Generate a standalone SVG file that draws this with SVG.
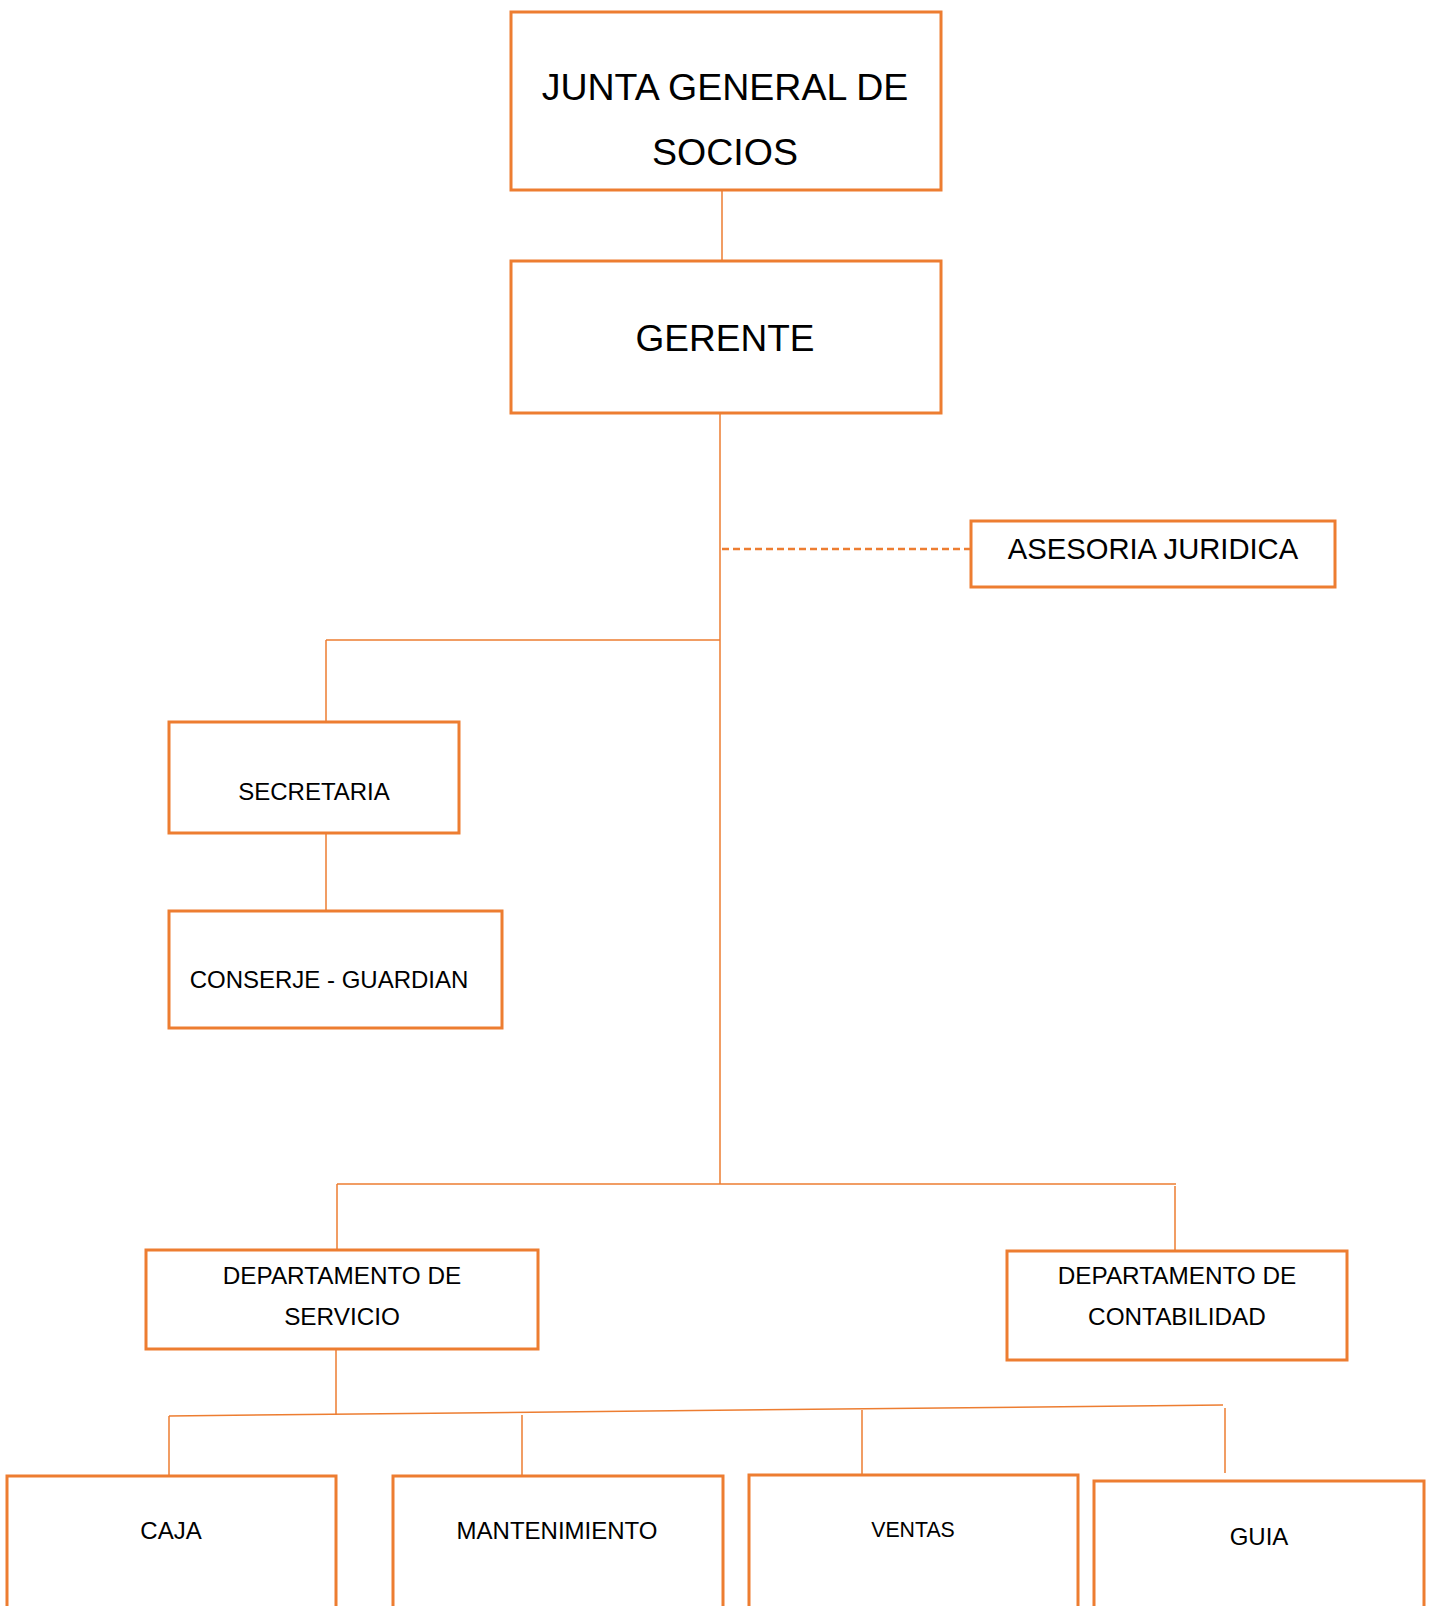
<svg xmlns="http://www.w3.org/2000/svg" width="1433" height="1606" viewBox="0 0 1433 1606">
<style>
.box{fill:#fff;stroke:#ED7D31;stroke-width:3}
.ln{stroke:#ED7D31;stroke-width:1.5;fill:none}
.dash{stroke:#ED7D31;stroke-width:2.5;stroke-dasharray:7 4;fill:none}
text{font-family:"Liberation Sans",Arial,sans-serif;fill:#000;text-anchor:middle}
</style>
<rect width="1433" height="1606" fill="#fff"/>
<g id="connectors">
<line class="ln" x1="722" y1="190" x2="722" y2="260"/>
<line class="ln" x1="720" y1="413" x2="720" y2="1184"/>
<line class="dash" x1="971" y1="549" x2="718" y2="549"/>
<line class="ln" x1="326" y1="640" x2="720" y2="640"/>
<line class="ln" x1="326" y1="640" x2="326" y2="722"/>
<line class="ln" x1="326" y1="833" x2="326" y2="911"/>
<line class="ln" x1="337" y1="1184" x2="1176" y2="1184"/>
<line class="ln" x1="337" y1="1184" x2="337" y2="1250"/>
<line class="ln" x1="1175" y1="1186" x2="1175" y2="1251"/>
<line class="ln" x1="336" y1="1349" x2="336" y2="1415"/>
<line class="ln" x1="169" y1="1416" x2="1223" y2="1405"/>
<line class="ln" x1="169" y1="1416" x2="169" y2="1476"/>
<line class="ln" x1="522" y1="1415" x2="522" y2="1475"/>
<line class="ln" x1="862" y1="1410" x2="862" y2="1475"/>
<line class="ln" x1="1225" y1="1408" x2="1225" y2="1473"/>
</g>
<g id="junta">
<rect class="box" x="511" y="12" width="430" height="178"/>
<text x="725" y="100" font-size="37.5">JUNTA GENERAL DE</text>
<text x="725" y="165" font-size="37.5">SOCIOS</text>
</g>
<g id="gerente">
<rect class="box" x="511" y="261" width="430" height="152"/>
<text x="725" y="351" font-size="37">GERENTE</text>
</g>
<g id="asesoria">
<rect class="box" x="971" y="521" width="364" height="66"/>
<text x="1153" y="559" font-size="29.2">ASESORIA JURIDICA</text>
</g>
<g id="secretaria">
<rect class="box" x="169" y="722" width="290" height="111"/>
<text x="314" y="800" font-size="24">SECRETARIA</text>
</g>
<g id="conserje">
<rect class="box" x="169" y="911" width="333" height="117"/>
<text x="329" y="988" font-size="24">CONSERJE - GUARDIAN</text>
</g>
<g id="dep-servicio">
<rect class="box" x="146" y="1250" width="392" height="99"/>
<text x="342" y="1284" font-size="24.3">DEPARTAMENTO DE</text>
<text x="342" y="1325" font-size="24.3">SERVICIO</text>
</g>
<g id="dep-contabilidad">
<rect class="box" x="1007" y="1251" width="340" height="109"/>
<text x="1177" y="1284" font-size="24.3">DEPARTAMENTO DE</text>
<text x="1177" y="1325" font-size="24.3">CONTABILIDAD</text>
</g>
<g id="caja">
<rect class="box" x="7" y="1476" width="329" height="160"/>
<text x="171" y="1539" font-size="24">CAJA</text>
</g>
<g id="mantenimiento">
<rect class="box" x="393" y="1476" width="330" height="160"/>
<text x="557" y="1539" font-size="24">MANTENIMIENTO</text>
</g>
<g id="ventas">
<rect class="box" x="749" y="1475" width="329" height="160"/>
<text x="913" y="1537" font-size="21.3">VENTAS</text>
</g>
<g id="guia">
<rect class="box" x="1094" y="1481" width="330" height="160"/>
<text x="1259" y="1545" font-size="24">GUIA</text>
</g>
</svg>
